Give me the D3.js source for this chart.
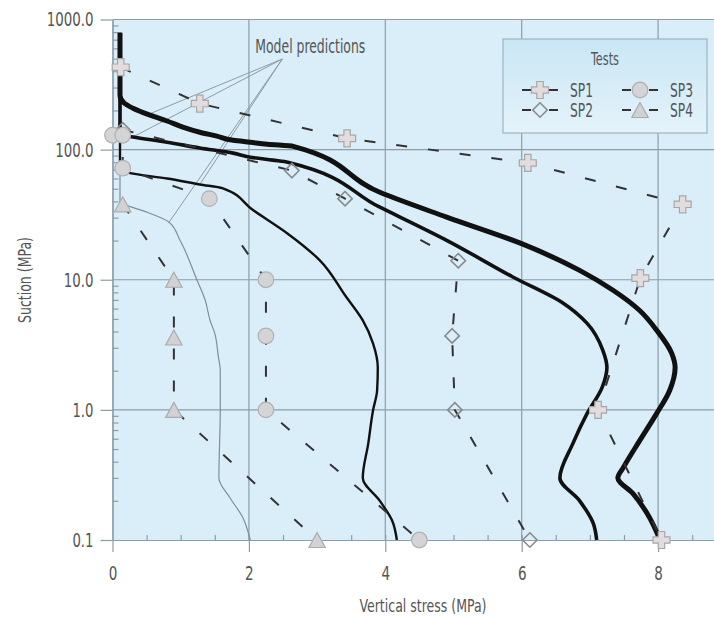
<!DOCTYPE html>
<html>
<head>
<meta charset="utf-8">
<script src="https://cdn.jsdelivr.net/npm/d3@7"></script>
<style>
  html, body { margin: 0; padding: 0; background: #ffffff; }
  svg { display: block; }
  text { font-family: "DejaVu Sans Condensed", "Liberation Sans", sans-serif; fill: #555; }
</style>
</head>
<body>
<svg id="chart" width="714" height="617"></svg>
<script>
// Axis ticks
const stressTicks = [0, 2, 4, 6, 8];
const suctionTicks = [0.1, 1, 10, 100, 1000];

// Model predictions: [vertical stress (MPa), suction (MPa)]
const modelA = [[0.11, 790], [0.11, 262], [0.17, 228], [0.30, 208], [0.55, 184], [0.80, 166], [1.03, 149],
  [1.28, 136], [1.53, 127], [1.77, 118], [2.02, 114], [2.27, 110], [2.65, 106], [3.92, 47], [4.90, 30.3],
  [5.98, 19.1], [6.85, 11.8], [7.34, 8.3], [7.73, 5.8], [7.98, 4.09], [8.20, 2.72], [8.25, 2.12],
  [8.17, 1.41], [7.98, 0.94], [7.73, 0.58], [7.49, 0.36], [7.41, 0.30], [7.63, 0.228], [7.84, 0.160], [8.03, 0.1]];
const modelB = [[0.11, 790], [0.11, 135], [0.15, 129], [0.30, 125], [0.80, 114], [1.28, 103], [1.77, 94],
  [2.02, 87.5], [2.35, 83], [2.57, 80], [3.92, 36.1], [4.90, 20.1], [5.87, 10.5], [6.61, 6.6], [6.96, 4.62],
  [7.19, 2.87], [7.25, 2.12], [7.18, 1.49], [6.96, 0.94], [6.75, 0.55], [6.56, 0.30], [6.85, 0.20],
  [7.05, 0.134], [7.10, 0.1]];
const modelC = [[0.11, 790], [0.11, 74], [0.14, 70], [0.26, 66], [0.80, 60], [1.28, 54], [1.61, 50.6],
  [2.06, 34.3], [2.56, 22.8], [3.04, 14.1], [3.42, 7.46], [3.67, 4.87], [3.82, 3.25], [3.89, 2.12],
  [3.88, 1.41], [3.82, 0.99], [3.75, 0.55], [3.67, 0.30], [3.92, 0.20], [4.10, 0.141], [4.17, 0.1]];
const modelD = [[0.11, 790], [0.11, 40], [0.15, 38.5], [0.51, 33], [0.83, 27.7], [0.99, 20.1], [1.24, 9.9],
  [1.36, 6.95], [1.43, 4.88], [1.50, 3.87], [1.55, 2.6], [1.58, 2.0], [1.58, 0.99], [1.56, 0.30],
  [1.72, 0.212], [1.91, 0.149], [2.02, 0.1]];

// Test results: [vertical stress (MPa), suction (MPa)]
const sp1 = [[0.12, 430], [1.28, 226], [3.44, 122], [6.09, 79], [8.36, 38], [7.74, 10.3], [7.12, 1.0], [8.05, 0.1]];
const sp2 = [[0.15, 142], [2.63, 69], [3.41, 42], [5.07, 14], [4.98, 3.7], [5.02, 1.0], [6.12, 0.1]];
const sp3 = [[0.0, 129], [0.15, 129], [0.15, 72], [1.42, 42], [2.25, 10], [2.25, 3.7], [2.25, 1.0], [4.50, 0.1]];
const sp4 = [[0.15, 38], [0.90, 10], [0.90, 3.6], [0.90, 1.0], [3.00, 0.1]];

const testNames = ["SP1", "SP2", "SP3", "SP4"];
const testSymbols = ["plus", "diamond", "circle", "triangle"];

// Leader lines for the "Model predictions" note: anchor and one point on each model curve
const noteAnchor = [2.49, 497];
const noteTargets = [[0.52, 186], [0.30, 125], [1.28, 54], [0.83, 27.7]];

const svg = d3.select("#chart");
const plot = { left: 112.5, right: 714, top: 19.5, bottom: 540 };

const x = d3.scaleLinear().domain([0, 8.82]).range([plot.left, plot.right]);
const y = d3.scaleLog().domain([0.1, 1000]).range([plot.bottom, plot.top]);

const gridColor = "#8d9da8";

// condensed lettering: squeeze each label to the width of a narrow face
function narrow(sel, perChar) {
  sel.each(function () {
    const t = d3.select(this);
    const s = t.text();
    let w = 0;
    for (const c of s) w += (c === "." ? 0.45 : c === " " ? 0.5 : 1) * perChar;
    t.attr("textLength", w).attr("lengthAdjust", "spacingAndGlyphs");
  });
}

// plot background
svg.append("rect")
  .attr("x", plot.left).attr("y", plot.top)
  .attr("width", plot.right - plot.left).attr("height", plot.bottom - plot.top)
  .attr("fill", "#d9eef9");

// grid
const grid = svg.append("g").attr("stroke", gridColor).attr("stroke-width", 1.2);
grid.selectAll("line.h").data(suctionTicks.filter(v => v > 0.1)).join("line")
  .attr("x1", plot.left).attr("x2", plot.right)
  .attr("y1", d => y(d)).attr("y2", d => y(d));
grid.selectAll("line.v").data(stressTicks.filter(v => v > 0)).join("line")
  .attr("y1", plot.top).attr("y2", plot.bottom)
  .attr("x1", d => x(d)).attr("x2", d => x(d));

// minor ticks
const minorSuction = [];
[0.1, 1, 10, 100].forEach(dec => { for (let m = 2; m <= 9; m++) minorSuction.push(dec * m); });
const minorStress = d3.range(0.5, 8.82, 0.5);

function styleAxis(g) {
  g.select(".domain").attr("stroke", gridColor).attr("stroke-width", 1.2);
  g.selectAll(".tick line").attr("stroke", gridColor).attr("stroke-width", 1.2);
  g.selectAll(".tick text").attr("fill", "#555").style("font-size", "20px")
    .style("font-family", "'DejaVu Sans Condensed', sans-serif")
    .call(narrow, 8.6);
}

svg.append("g").attr("transform", `translate(${plot.left},0)`)
  .call(d3.axisLeft(y).tickValues(minorSuction).tickSize(-6).tickSizeOuter(0).tickFormat(""))
  .call(styleAxis);
svg.append("g").attr("transform", `translate(0,${plot.bottom})`)
  .call(d3.axisBottom(x).tickValues(minorStress).tickSize(-5).tickSizeOuter(0).tickFormat(""))
  .call(styleAxis);

svg.append("g").attr("transform", `translate(${plot.left},0)`)
  .call(d3.axisLeft(y).tickValues(suctionTicks).tickFormat(d3.format(".1f")).tickSize(12).tickSizeOuter(0).tickPadding(7))
  .call(styleAxis);
svg.append("g").attr("transform", `translate(0,${plot.bottom})`)
  .call(d3.axisBottom(x).tickValues(stressTicks).tickFormat(d3.format("d")).tickSize(12).tickSizeOuter(0).tickPadding(14))
  .call(styleAxis);

// axis titles
svg.append("text")
  .attr("transform", `translate(31,280) rotate(-90)`)
  .attr("text-anchor", "middle")
  .style("font-size", "17px")
  .attr("textLength", 86).attr("lengthAdjust", "spacingAndGlyphs")
  .text("Suction (MPa)");
svg.append("text")
  .attr("x", 423).attr("y", 612)
  .attr("text-anchor", "middle")
  .style("font-size", "17px")
  .attr("textLength", 127).attr("lengthAdjust", "spacingAndGlyphs")
  .text("Vertical stress (MPa)");

// leader lines and note
const ax = x(noteAnchor[0]), ay = y(noteAnchor[1]);
svg.append("g").attr("stroke", "#8d9ba4").attr("stroke-width", 1)
  .selectAll("line").data(noteTargets).join("line")
  .attr("x1", ax).attr("y1", ay)
  .attr("x2", d => x(d[0])).attr("y2", d => y(d[1]));
svg.append("text")
  .attr("x", ax - 27).attr("y", ay - 6)
  .style("font-size", "19px")
  .attr("fill", "#444")
  .attr("textLength", 110).attr("lengthAdjust", "spacingAndGlyphs")
  .text("Model predictions");

// model curves
const modelLine = d3.line().x(d => x(d[0])).y(d => y(d[1])).curve(d3.curveMonotoneY);
const models = [
  { data: modelD, width: 1.2, color: "#7f8e98" },
  { data: modelC, width: 2.4, color: "#111" },
  { data: modelB, width: 3.6, color: "#111" },
  { data: modelA, width: 5, color: "#111" }
];
svg.append("g").selectAll("path").data(models).join("path")
  .attr("d", d => modelLine(d.data))
  .attr("fill", "none")
  .attr("stroke", d => d.color)
  .attr("stroke-width", d => d.width)
  .attr("stroke-linejoin", "round");

// test paths
const tests = [sp1, sp2, sp3, sp4];
const testLine = d3.line().x(d => x(d[0])).y(d => y(d[1]));
svg.append("g").selectAll("path").data(tests).join("path")
  .attr("d", d => testLine(d))
  .attr("fill", "none")
  .attr("stroke", "#333")
  .attr("stroke-width", 2)
  .attr("stroke-dasharray", "11,21");

// markers
function drawMarker(g, type) {
  if (type === "plus") {
    const a = 3.2, l = 8.5;
    g.append("path")
      .attr("d", `M${-a},${-l}H${a}V${-a}H${l}V${a}H${a}V${l}H${-a}V${a}H${-l}V${-a}H${-a}Z`)
      .attr("fill", "#e2dcdc").attr("stroke", "#a9a6a8").attr("stroke-width", 1.2);
  } else if (type === "diamond") {
    const r = 7.2;
    g.append("path")
      .attr("d", `M0,${-r}L${r},0L0,${r}L${-r},0Z`)
      .attr("fill", "none").attr("stroke", "#8a8a8a").attr("stroke-width", 1.6);
  } else if (type === "circle") {
    g.append("circle").attr("r", 7.8)
      .attr("fill", "#d4d4d6").attr("stroke", "#b0b0b2").attr("stroke-width", 1.2);
  } else {
    const w = 8.2, h = 7.5;
    g.append("path")
      .attr("d", `M0,${-h}L${w},${h}L${-w},${h}Z`)
      .attr("fill", "#d2d2d4").attr("stroke", "#ababad").attr("stroke-width", 1.2);
  }
}

// diamonds beneath the rest so the shared start point stays behind the circles
const order = [1, 0, 3, 2];
order.forEach(i => {
  tests[i].forEach(p => {
    const g = svg.append("g").attr("transform", `translate(${x(p[0])},${y(p[1])})`);
    drawMarker(g, testSymbols[i]);
  });
});

// legend
const legend = svg.append("g").attr("transform", "translate(503,39)");
const grad = svg.append("defs").append("linearGradient")
  .attr("id", "legendFill").attr("x1", 0).attr("y1", 0).attr("x2", 0).attr("y2", 1);
grad.append("stop").attr("offset", "0%").attr("stop-color", "#cae6f4");
grad.append("stop").attr("offset", "100%").attr("stop-color", "#e4f3fb");
legend.append("rect")
  .attr("width", 204).attr("height", 94)
  .attr("fill", "url(#legendFill)")
  .attr("stroke", "#9fb4c0").attr("stroke-width", 1.2);
legend.append("text")
  .attr("x", 102).attr("y", 26)
  .attr("text-anchor", "middle")
  .style("font-size", "17px")
  .attr("fill", "#444")
  .attr("textLength", 28).attr("lengthAdjust", "spacingAndGlyphs")
  .text("Tests");

testNames.forEach((name, i) => {
  const col = Math.floor(i / 2), row = i % 2;
  const cx = 37 + col * 100, cy = 51 + row * 20;
  const item = legend.append("g").attr("transform", `translate(${cx},${cy})`);
  item.append("line").attr("x1", -18).attr("x2", -9).attr("stroke", "#333").attr("stroke-width", 2);
  item.append("line").attr("x1", 9).attr("x2", 18).attr("stroke", "#333").attr("stroke-width", 2);
  drawMarker(item.append("g"), testSymbols[i]);
  item.append("text")
    .attr("x", 30).attr("y", 7)
    .style("font-size", "19px")
    .attr("fill", "#444")
    .attr("textLength", 23).attr("lengthAdjust", "spacingAndGlyphs")
    .text(name);
});
</script>
</body>
</html>
